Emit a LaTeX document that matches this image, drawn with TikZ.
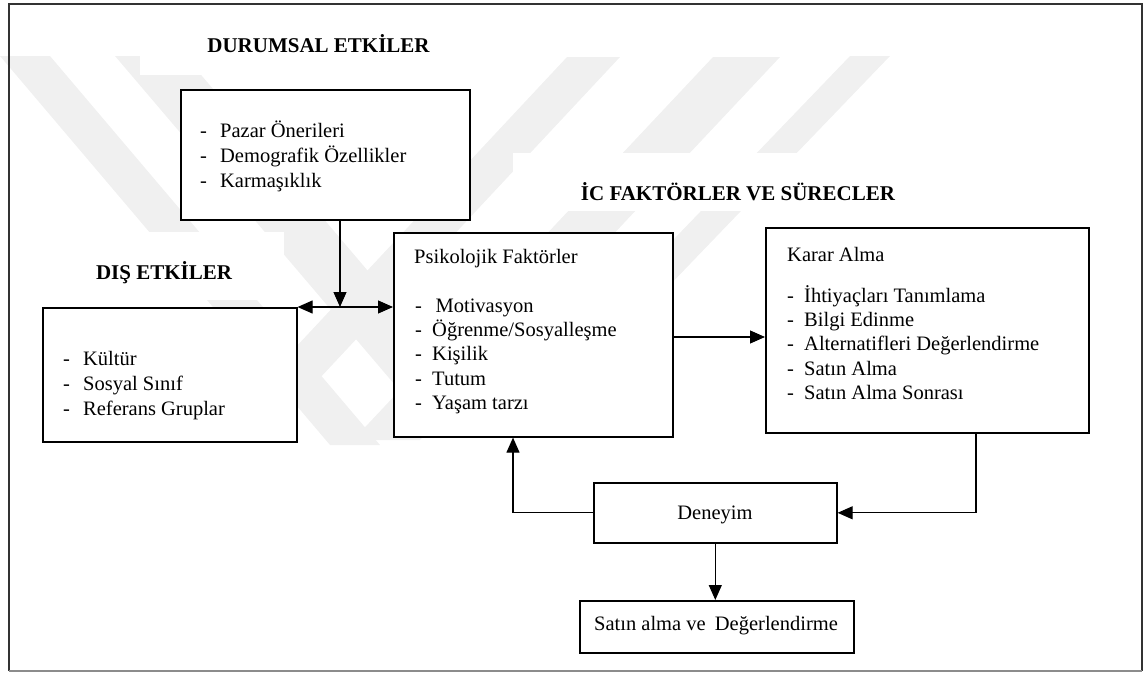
\documentclass[tikz,border=0pt]{standalone}
\usepackage{fontspec}
\setmainfont{Liberation Serif}
\usetikzlibrary{arrows.meta}
\newcommand\dashitem[2]{\makebox[#1][l]{-}#2}
\begin{document}
\begin{tikzpicture}[x=1pt,y=-1pt,
  box/.style={draw=black, line width=1.6pt, fill=white, inner sep=0pt, anchor=north west},
  head/.style={font=\fontsize{21}{25}\selectfont\bfseries, anchor=base, inner sep=0pt},
  body/.style={font=\fontsize{20.5}{24.4}\selectfont, anchor=base west, inner sep=0pt},
  link/.style={line width=1.1pt, -{Triangle[length=15pt,width=13pt]}},
  link2/.style={line width=1.1pt, {Triangle[length=15pt,width=13pt]}-{Triangle[length=15pt,width=13pt]}},
  wm/.style={fill=black!6, draw=none},
  patch/.style={fill=white, draw=none}]
\useasboundingbox (0,0) rectangle (1143,673);

% faint background emblem: nested chevrons
\fill[wm] (0,56) -- (50,56) -- (380,445) -- (330,445) -- cycle;
\fill[wm] (115,56) -- (185,56) -- (465,385) -- (395,385) -- cycle;
\fill[wm] (567,57) -- (620,57) -- (290,410) -- (237,410) -- cycle;
\fill[wm] (713,57) -- (780,57) -- (420,440) -- (353,440) -- cycle;
\fill[wm] (850,56) -- (890,56) -- (540,420) -- (500,420) -- cycle;
\fill[patch] (140,50) rectangle (440,75);
\fill[patch] (513,153) rectangle (900,211);
\fill[patch] (9,232) rectangle (284,300);

% outer frame
\draw[line width=1.6pt, black!80] (9,671) -- (9,4) -- (1142,4) -- (1142,671);
\draw[line width=1.6pt, black!45] (9,671) -- (1142,671);

% group headings
\node[head] (hdur) at (318.5,52) {DURUMSAL ETKİLER};
\node[head] (hdis) at (164,279) {DIŞ ETKİLER};
\node[head] (hic)  at (738,200) {İC FAKTÖRLER VE SÜRECLER};

% boxes
\node[box, minimum width=289pt, minimum height=130pt] (dur) at (180,89) {};
\node[box, minimum width=254pt, minimum height=134pt] (dis) at (42,307) {};
\node[box, minimum width=279pt, minimum height=204pt] (psi) at (393,232) {};
\node[box, minimum width=323pt, minimum height=205pt] (kar) at (765,227) {};
\node[box, minimum width=243pt, minimum height=60pt] (den) at (593,482) {};
\node[box, minimum width=274pt, minimum height=52pt] (sat) at (579,600) {};

% box contents
\node[body] (durl) at (200,137) {\begin{tabular}[t]{@{}l@{}}
  \dashitem{20pt}{Pazar Önerileri}\\[0.6pt]
  \dashitem{20pt}{Demografik Özellikler}\\[0.6pt]
  \dashitem{20pt}{Karmaşıklık}\end{tabular}};
\node[body] (disl) at (63,365) {\begin{tabular}[t]{@{}l@{}}
  \dashitem{20pt}{Kültür}\\[0.6pt]
  \dashitem{20pt}{Sosyal Sınıf}\\[0.6pt]
  \dashitem{20pt}{Referans Gruplar}\end{tabular}};
\node[body] (psit) at (414,263) {Psikolojik Faktörler};
\node[body] (psil) at (415,312) {\begin{tabular}[t]{@{}l@{}}
  \dashitem{17pt}{\,Motivasyon}\\
  \dashitem{17pt}{Öğrenme/Sosyalleşme}\\
  \dashitem{17pt}{Kişilik}\\
  \dashitem{17pt}{Tutum}\\
  \dashitem{17pt}{Yaşam tarzı}\end{tabular}};
\node[body] (kart) at (787,261) {Karar Alma};
\node[body] (karl) at (787,302) {\begin{tabular}[t]{@{}l@{}}
  \dashitem{17pt}{İhtiyaçları Tanımlama}\\
  \dashitem{17pt}{Bilgi Edinme}\\
  \dashitem{17pt}{Alternatifleri Değerlendirme}\\
  \dashitem{17pt}{Satın Alma}\\
  \dashitem{17pt}{Satın Alma Sonrası}\end{tabular}};
\node[body, anchor=base] (dent) at (715,519) {Deneyim};
\node[body, anchor=base] (satt) at (716,630) {Satın alma ve\hspace{0.2em} Değerlendirme};

% connectors
\coordinate (join) at (340,307);
\coordinate (kdrop) at (976,0);
\coordinate (pback) at (513,0);
\coordinate (flow) at (0,337);
\draw[link] (join |- dur.south) -- (join);
\draw[link2] (dis.north east) -- (psi.west |- dis.north);
\draw[link] (psi.east |- flow) -- (kar.west |- flow);
\draw[link] (kar.south -| kdrop) |- (den.east);
\draw[link] (den.west) -| (psi.south -| pback);
\draw[link] (den.south) -- (den.south |- sat.north);
\end{tikzpicture}
\end{document}
